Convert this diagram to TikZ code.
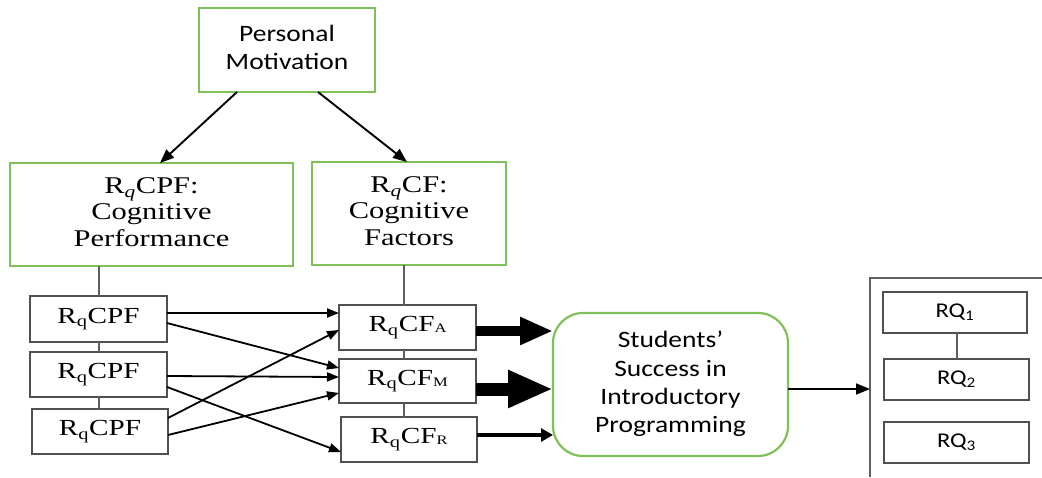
\documentclass[tikz,border=0pt]{standalone}
\usepackage{fontspec}
\setmainfont{Liberation Serif}
\newfontfamily\calfont{Carlito}
\usepackage{graphicx}
\usetikzlibrary{arrows.meta,calc}
\definecolor{boxgreen}{RGB}{128,192,88}
\definecolor{boxgray}{RGB}{80,80,80}
\definecolor{linegray}{RGB}{95,95,95}
\newcommand{\sxs}[1]{\scalebox{1.27}[1]{#1}}
\newcommand{\sxc}[1]{\scalebox{1.17}[1]{#1}}
\newcommand{\serifbig}{\fontsize{24}{26.5}\selectfont}
\newcommand{\serifsmall}{\fontsize{23}{26}\selectfont}
\newcommand{\sansbig}{\calfont\fontsize{23.5}{28.3}\selectfont}
\newcommand{\sansrq}{\calfont\fontsize{21}{24}\selectfont}
\newcommand{\lowsub}[1]{\raisebox{-1pt}{\fontsize{13}{13}\selectfont #1}}
\tikzset{
  greenbox/.style={draw=boxgreen, line width=2.2pt, inner sep=0pt, outer sep=0pt, align=center},
  graybox/.style={draw=boxgray, line width=1.8pt, inner sep=0pt, outer sep=0pt, align=center},
  conn/.style={draw=linegray, line width=2pt},
  thinarrow/.style={line width=1.8pt, -{Triangle[length=12pt,width=9pt]}},
  pmarrow/.style={line width=1.9pt, -{Triangle[length=14pt,width=11pt]}},
  fatA/.style={line width=10pt, -{Triangle[length=33pt,width=26pt]}},
  fatM/.style={line width=13pt, -{Triangle[length=45pt,width=35pt]}},
  fatR/.style={line width=4.5pt, -{Triangle[length=12pt,width=13pt]}},
}
\begin{document}
\begin{tikzpicture}[x=1pt,y=-1pt]
\useasboundingbox (0,0) rectangle (1042,477);

% top boxes
\node[greenbox, minimum width=176pt, minimum height=84pt] (pm) at (287,50)
  {\sansbig\sxc{\begin{tabular}{@{}c@{}}Personal\\Motivation\end{tabular}}};
\node[greenbox, minimum width=283pt, minimum height=103pt] (cpf) at (151.5,214.5)
  {\serifbig\sxs{\begin{tabular}{@{}c@{}}R\textsubscript{\textit{q}}CPF:\\Cognitive\\Performance\end{tabular}}};
\node[greenbox, minimum width=194pt, minimum height=103pt] (cf) at (409,213.5)
  {\serifbig\sxs{\begin{tabular}{@{}c@{}}R\textsubscript{\textit{q}}CF:\\Cognitive\\Factors\end{tabular}}};

% small boxes
\node[graybox, minimum width=137pt, minimum height=46pt] (cpf1) at (98.5,319) {\serifsmall\sxs{R\textsubscript{q}CPF}};
\node[graybox, minimum width=137pt, minimum height=45pt] (cpf2) at (98.5,374.5) {\serifsmall\sxs{R\textsubscript{q}CPF}};
\node[graybox, minimum width=136pt, minimum height=45pt] (cpf3) at (100,431.5) {\serifsmall\sxs{R\textsubscript{q}CPF}};
\node[graybox, minimum width=137pt, minimum height=45pt] (cfa) at (407.5,327.5) {\serifsmall\sxs{R\textsubscript{q}CF\lowsub{A}}};
\node[graybox, minimum width=137pt, minimum height=44pt] (cfm) at (407.5,381) {\serifsmall\sxs{R\textsubscript{q}CF\lowsub{M}}};
\node[graybox, minimum width=136pt, minimum height=45pt] (cfr) at (409,439.5) {\serifsmall\sxs{R\textsubscript{q}CF\lowsub{R}}};

% success box
\node[greenbox, rounded corners=30pt, minimum width=235pt, minimum height=143pt] (ss) at (670.5,384.5)
  {\sansbig\sxc{\begin{tabular}{@{}c@{}}Students’\\Success in\\Introductory\\Programming\end{tabular}}};

% RQ boxes
\node[graybox, minimum width=144pt, minimum height=41pt] (rq1) at (955,312.5) {\sansrq\sxc{RQ\textsubscript{1}}};
\node[graybox, minimum width=145pt, minimum height=41pt] (rq2) at (956.5,379.5) {\sansrq\sxc{RQ\textsubscript{2}}};
\node[graybox, minimum width=145pt, minimum height=41pt] (rq3) at (956.5,442.5) {\sansrq\sxc{RQ\textsubscript{3}}};

% bracket
\coordinate (brtop) at (870,278);
\coordinate (brbot) at (870,477);
\coordinate (brright) at (1042,278);
\draw[conn] (brbot) -- (brtop) -- (brright);

% vertical connectors
\draw[conn] (cpf1.north) -- (cpf1.north |- cpf.south);
\draw[conn] (cpf2.north) -- (cpf2.north |- cpf1.south);
\draw[conn] (cpf3.north -| cpf2.north) -- (cpf2.south);
\draw[conn] ([xshift=-3.5pt]cfa.north) -- ([xshift=-3.5pt]cfa.north |- cf.south);
\draw[conn] ([xshift=-3.5pt]cfm.north) -- ([xshift=-3.5pt]cfm.north |- cfa.south);
\draw[conn] ([xshift=-3.5pt]cfm.south) -- ([xshift=-3.5pt]cfm.south |- cfr.north);
\draw[conn] (rq1.south -| rq2.north) -- (rq2.north);

% personal motivation arrows
\draw[pmarrow] ($(pm.south)+(-50,0)$) -- ($(cpf.north)+(8.5,0)$);
\draw[pmarrow] ($(pm.south)+(31,0)$) -- ($(cf.north)+(-2,0)$);

% thin arrows
\draw[thinarrow] ($(cpf1.east)+(0,-6)$) -- ($(cfa.west)+(0,-14.5)$);
\draw[thinarrow] ($(cpf1.east)+(0,4)$) -- ($(cfm.west)+(0,-13)$);
\draw[thinarrow] ($(cpf2.east)+(0,1.5)$) -- ($(cfm.west)+(0,-4)$);
\draw[thinarrow] ($(cpf2.east)+(0,12.5)$) -- ($(cfr.west)+(0,12.5)$);
\draw[thinarrow] ($(cpf3.east)+(0,-13.5)$) -- ($(cfa.west)+(0,2.5)$);
\draw[thinarrow] ($(cpf3.east)+(0,3.5)$) -- ($(cfm.west)+(0,12)$);

% fat arrows
\draw[fatA] ($(cfa.east)+(0,3.5)$) -- (ss.west |- {$(cfa.east)+(0,3.5)$});
\draw[fatM] ($(cfm.east)+(0,8)$) -- (ss.west |- {$(cfm.east)+(0,8)$});
\draw[fatR] ($(cfr.east)+(0,-4.5)$) -- (ss.west |- {$(cfr.east)+(0,-4.5)$});

% to RQ bracket
\draw[pmarrow, line width=1.7pt] ($(ss.east)+(0,4.5)$) -- (brtop |- {$(ss.east)+(0,4.5)$});
\end{tikzpicture}
\end{document}
